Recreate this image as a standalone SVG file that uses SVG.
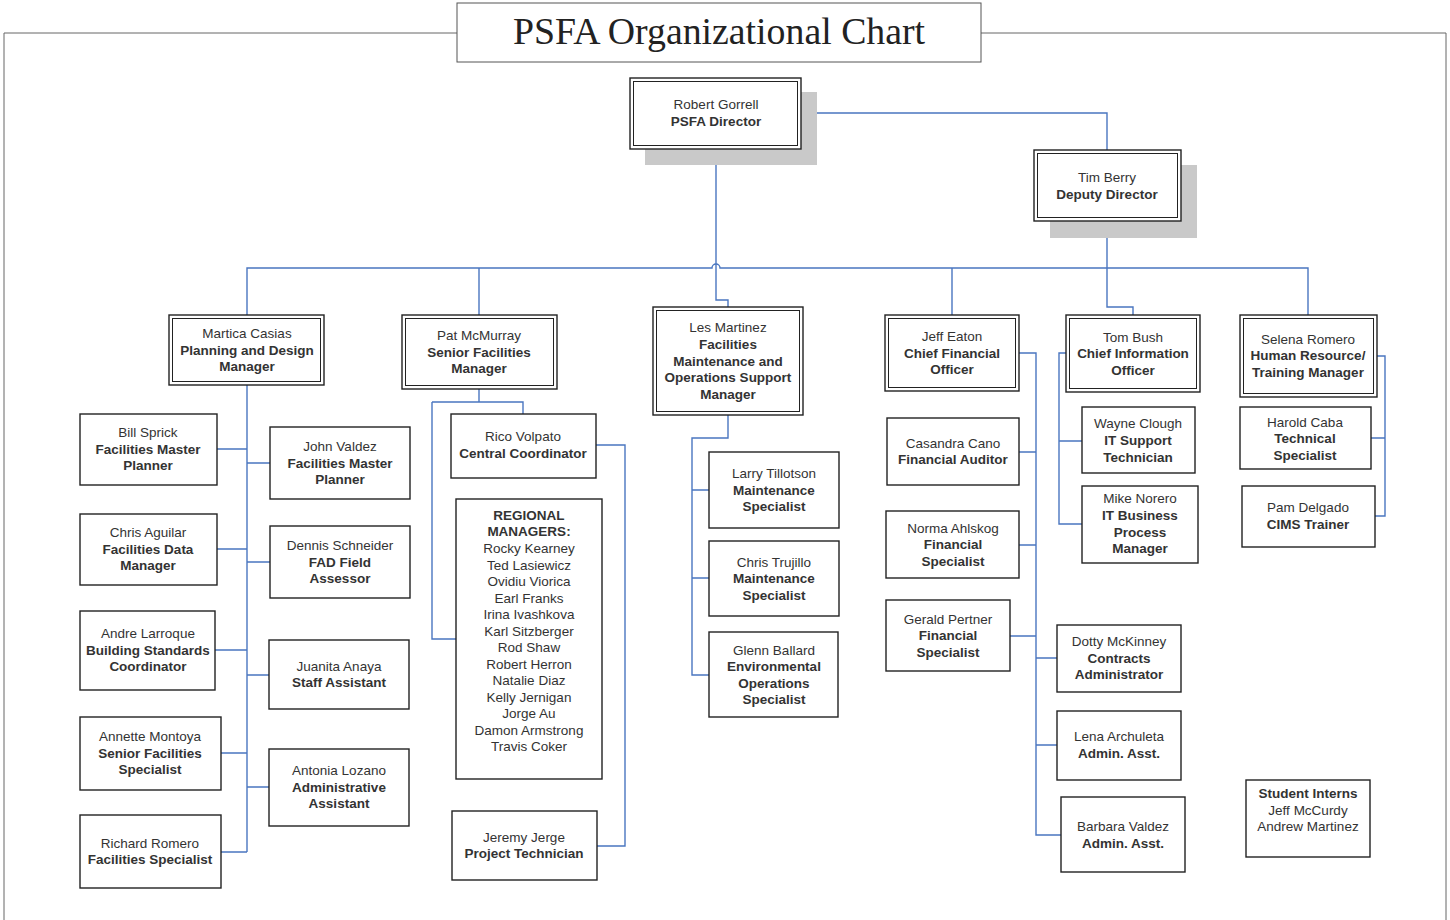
<svg xmlns="http://www.w3.org/2000/svg" width="1450" height="920" viewBox="0 0 1450 920">
<style>
text{font-family:"Liberation Sans",Arial,sans-serif;font-size:13.5px;fill:#333;text-anchor:middle}
.b{font-weight:bold}
.box{fill:#fff;stroke:#222;stroke-width:1.4}
.in{fill:none;stroke:#222;stroke-width:1}
.sh{fill:#c9c9c9}
.c{fill:none;stroke:#4a76c0;stroke-width:1.4}
.frame{fill:none;stroke:#666;stroke-width:1}
.title{font-family:"Liberation Serif","Times New Roman",serif;font-size:37.8px;fill:#222}
</style>
<rect width="1450" height="920" fill="#fff"/>
<path class="frame" d="M457 33 H4 V920 M981 33 H1446 V920"/>
<g id="title"><rect x="457" y="3" width="524" height="59" fill="#fff" stroke="#555" stroke-width="1"/><text class="title" x="719" y="44">PSFA Organizational Chart</text></g>

<g id="connectors">
<path class="c" d="M801 113 H1107 V150"/>
<path class="c" d="M716 149 V300 H728 V307"/>
<path class="c" d="M247 315 V268 H712 A4 4 0 0 1 720 268 H1308 V315"/>
<path class="c" d="M479 268 V315 M952 268 V315"/>
<path class="c" d="M1107 221 V307 H1133 V315"/>
<path class="c" d="M247 385 V852 M217 449 H247 M217 549 H247 M215 650 H247 M221 753 H247 M221 852 H247 M247 463 H270 M247 562 H270 M247 675 H269 M247 787 H269"/>
<path class="c" d="M479 389 V402 M432 402 H523 V414 M432 402 V639 H456 M596 445 H625 V846 H597"/>
<path class="c" d="M728 415 V438 H692 V675 H709 M692 490 H709 M692 578 H709"/>
<path class="c" d="M1019 353 H1036 V835 H1061 M1019 452 H1036 M1019 545 H1036 M1010 636 H1036 M1036 658 H1057 M1036 745 H1057"/>
<path class="c" d="M1066 353 H1059 V524 H1082 M1059 441 H1082"/>
<path class="c" d="M1377 356 H1385 V516 H1375 M1371 438 H1385"/>
</g>

<g id="robert"><rect class="sh" x="645" y="92" width="172" height="73"/><rect class="box" x="630" y="78" width="171" height="71"/><rect class="in" x="633.5" y="81.5" width="164" height="64"/><text x="716" y="109">Robert Gorrell</text><text class="b" x="716" y="126">PSFA Director</text></g>
<g id="tim"><rect class="sh" x="1050" y="165" width="147" height="73"/><rect class="box" x="1034" y="150" width="147" height="71"/><rect class="in" x="1037.5" y="153.5" width="140" height="64"/><text x="1107" y="182">Tim Berry</text><text class="b" x="1107" y="199">Deputy Director</text></g>

<g id="martica"><rect class="box" x="169" y="315" width="155" height="70"/><rect class="in" x="172.5" y="318.5" width="148" height="63"/><text x="247" y="338">Martica Casias</text><text class="b" x="247" y="355">Planning and Design</text><text class="b" x="247" y="371">Manager</text></g>
<g id="pat"><rect class="box" x="402" y="315" width="155" height="74"/><rect class="in" x="405.5" y="318.5" width="148" height="67"/><text x="479" y="340">Pat McMurray</text><text class="b" x="479" y="357">Senior Facilities</text><text class="b" x="479" y="373">Manager</text></g>
<g id="les"><rect class="box" x="653" y="307" width="150" height="108"/><rect class="in" x="656.5" y="310.5" width="143" height="101"/><text x="728" y="332">Les Martinez</text><text class="b" x="728" y="349">Facilities</text><text class="b" x="728" y="366">Maintenance and</text><text class="b" x="728" y="382">Operations Support</text><text class="b" x="728" y="399">Manager</text></g>
<g id="jeff"><rect class="box" x="885" y="315" width="134" height="76"/><rect class="in" x="888.5" y="318.5" width="127" height="69"/><text x="952" y="341">Jeff Eaton</text><text class="b" x="952" y="358">Chief Financial</text><text class="b" x="952" y="374">Officer</text></g>
<g id="tom"><rect class="box" x="1066" y="315" width="134" height="77"/><rect class="in" x="1069.5" y="318.5" width="127" height="70"/><text x="1133" y="342">Tom Bush</text><text class="b" x="1133" y="358">Chief Information</text><text class="b" x="1133" y="375">Officer</text></g>
<g id="selena"><rect class="box" x="1240" y="315" width="137" height="82"/><rect class="in" x="1243.5" y="318.5" width="130" height="75"/><text x="1308" y="344">Selena Romero</text><text class="b" x="1308" y="360">Human Resource/</text><text class="b" x="1308" y="377">Training Manager</text></g>

<g id="bill"><rect class="box" x="80" y="414" width="137" height="71"/><text x="148" y="437">Bill Sprick</text><text class="b" x="148" y="454">Facilities Master</text><text class="b" x="148" y="470">Planner</text></g>
<g id="chrisa"><rect class="box" x="80" y="514" width="137" height="71"/><text x="148" y="537">Chris Aguilar</text><text class="b" x="148" y="554">Facilities Data</text><text class="b" x="148" y="570">Manager</text></g>
<g id="andre"><rect class="box" x="80" y="611" width="135" height="79"/><text x="148" y="638">Andre Larroque</text><text class="b" x="148" y="655">Building Standards</text><text class="b" x="148" y="671">Coordinator</text></g>
<g id="annette"><rect class="box" x="80" y="717" width="141" height="73"/><text x="150" y="741">Annette Montoya</text><text class="b" x="150" y="758">Senior Facilities</text><text class="b" x="150" y="774">Specialist</text></g>
<g id="richard"><rect class="box" x="80" y="815" width="141" height="73"/><text x="150" y="848">Richard Romero</text><text class="b" x="150" y="864">Facilities Specialist</text></g>
<g id="john"><rect class="box" x="270" y="427" width="140" height="72"/><text x="340" y="451">John Valdez</text><text class="b" x="340" y="468">Facilities Master</text><text class="b" x="340" y="484">Planner</text></g>
<g id="dennis"><rect class="box" x="270" y="526" width="140" height="72"/><text x="340" y="550">Dennis Schneider</text><text class="b" x="340" y="567">FAD Field</text><text class="b" x="340" y="583">Assessor</text></g>
<g id="juanita"><rect class="box" x="269" y="640" width="140" height="69"/><text x="339" y="671">Juanita Anaya</text><text class="b" x="339" y="687">Staff Assistant</text></g>
<g id="antonia"><rect class="box" x="269" y="749" width="140" height="77"/><text x="339" y="775">Antonia Lozano</text><text class="b" x="339" y="792">Administrative</text><text class="b" x="339" y="808">Assistant</text></g>

<g id="rico"><rect class="box" x="451" y="414" width="145" height="64" stroke-width="2"/><text x="523" y="441">Rico Volpato</text><text class="b" x="523" y="458">Central Coordinator</text></g>
<g id="regional"><rect class="box" x="456" y="499" width="146" height="280"/><text class="b" x="529" y="520">REGIONAL</text><text class="b" x="529" y="536">MANAGERS:</text><text x="529" y="553">Rocky Kearney</text><text x="529" y="570">Ted Lasiewicz</text><text x="529" y="586">Ovidiu Viorica</text><text x="529" y="603">Earl Franks</text><text x="529" y="619">Irina Ivashkova</text><text x="529" y="636">Karl Sitzberger</text><text x="529" y="652">Rod Shaw</text><text x="529" y="669">Robert Herron</text><text x="529" y="685">Natalie Diaz</text><text x="529" y="702">Kelly Jernigan</text><text x="529" y="718">Jorge Au</text><text x="529" y="735">Damon Armstrong</text><text x="529" y="751">Travis Coker</text></g>
<g id="jeremy"><rect class="box" x="452" y="811" width="145" height="69"/><text x="524" y="842">Jeremy Jerge</text><text class="b" x="524" y="858">Project Technician</text></g>

<g id="larry"><rect class="box" x="709" y="452" width="130" height="76"/><text x="774" y="478">Larry Tillotson</text><text class="b" x="774" y="495">Maintenance</text><text class="b" x="774" y="511">Specialist</text></g>
<g id="christ"><rect class="box" x="709" y="541" width="130" height="75"/><text x="774" y="567">Chris Trujillo</text><text class="b" x="774" y="583">Maintenance</text><text class="b" x="774" y="600">Specialist</text></g>
<g id="glenn"><rect class="box" x="709" y="632" width="129" height="85"/><text x="774" y="655">Glenn Ballard</text><text class="b" x="774" y="671">Environmental</text><text class="b" x="774" y="688">Operations</text><text class="b" x="774" y="704">Specialist</text></g>

<g id="casandra"><rect class="box" x="887" y="418" width="132" height="67"/><text x="953" y="448">Casandra Cano</text><text class="b" x="953" y="464">Financial Auditor</text></g>
<g id="norma"><rect class="box" x="886" y="511" width="133" height="67"/><text x="953" y="533">Norma Ahlskog</text><text class="b" x="953" y="549">Financial</text><text class="b" x="953" y="566">Specialist</text></g>
<g id="gerald"><rect class="box" x="886" y="600" width="124" height="71"/><text x="948" y="624">Gerald Pertner</text><text class="b" x="948" y="640">Financial</text><text class="b" x="948" y="657">Specialist</text></g>
<g id="dotty"><rect class="box" x="1057" y="625" width="124" height="67"/><text x="1119" y="646">Dotty McKinney</text><text class="b" x="1119" y="663">Contracts</text><text class="b" x="1119" y="679">Administrator</text></g>
<g id="lena"><rect class="box" x="1057" y="711" width="124" height="69"/><text x="1119" y="741">Lena Archuleta</text><text class="b" x="1119" y="758">Admin. Asst.</text></g>
<g id="barbara"><rect class="box" x="1061" y="797" width="124" height="75"/><text x="1123" y="831">Barbara Valdez</text><text class="b" x="1123" y="848">Admin. Asst.</text></g>

<g id="wayne"><rect class="box" x="1082" y="407" width="113" height="66"/><text x="1138" y="428">Wayne Clough</text><text class="b" x="1138" y="445">IT Support</text><text class="b" x="1138" y="462">Technician</text></g>
<g id="mike"><rect class="box" x="1082" y="486" width="116" height="77"/><text x="1140" y="503">Mike Norero</text><text class="b" x="1140" y="520">IT Business</text><text class="b" x="1140" y="537">Process</text><text class="b" x="1140" y="553">Manager</text></g>

<g id="harold"><rect class="box" x="1240" y="407" width="131" height="62"/><text x="1305" y="427">Harold Caba</text><text class="b" x="1305" y="443">Technical</text><text class="b" x="1305" y="460">Specialist</text></g>
<g id="pam"><rect class="box" x="1242" y="486" width="133" height="61"/><text x="1308" y="512">Pam Delgado</text><text class="b" x="1308" y="529">CIMS Trainer</text></g>

<g id="interns"><rect class="box" x="1246" y="780" width="124" height="77"/><text class="b" x="1308" y="798">Student Interns</text><text x="1308" y="815">Jeff McCurdy</text><text x="1308" y="831">Andrew Martinez</text></g>
</svg>
